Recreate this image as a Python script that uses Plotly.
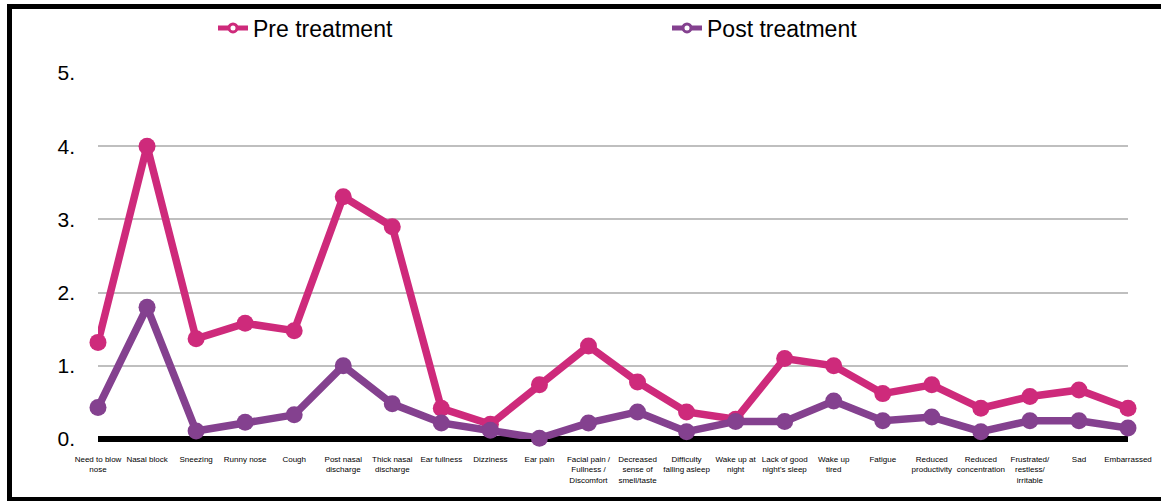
import plotly.graph_objects as go

# Symptom categories along the x axis
categories = [
    "Need to blow<br>nose", "Nasal block", "Sneezing", "Runny nose", "Cough",
    "Post nasal<br>discharge", "Thick nasal<br>discharge", "Ear fullness",
    "Dizziness", "Ear pain", "Facial pain /<br>Fullness /<br>Discomfort",
    "Decreased<br>sense of<br>smell/taste", "Difficulty<br>falling asleep",
    "Wake up at<br>night", "Lack of good<br>night's sleep", "Wake up<br>tired",
    "Fatigue", "Reduced<br>productivity", "Reduced<br>concentration",
    "Frustrated/<br>restless/<br>irritable", "Sad", "Embarrassed",
]

# Mean scores before treatment
pre_treatment = [1.32, 4.0, 1.37, 1.58, 1.48, 3.31, 2.90, 0.42, 0.20, 0.74, 1.27,
                 0.78, 0.37, 0.27, 1.10, 1.00, 0.62, 0.74, 0.42, 0.58, 0.67, 0.42]

# Mean scores after treatment
post_treatment = [0.43, 1.80, 0.11, 0.23, 0.33, 1.00, 0.48, 0.22, 0.12, 0.01, 0.22,
                  0.37, 0.10, 0.24, 0.24, 0.52, 0.25, 0.30, 0.10, 0.25, 0.25, 0.15]

y_ticks = [0, 1, 2, 3, 4, 5]
y_tick_text = ["0.", "1.", "2.", "3.", "4.", "5."]

PRE_COLOR = "#CE2A7B"
POST_COLOR = "#84418F"
FONT = "Liberation Sans, Arial, sans-serif"

x_idx = list(range(len(categories)))

fig = go.Figure()

for name, values, color in [("Pre treatment", pre_treatment, PRE_COLOR),
                            ("Post treatment", post_treatment, POST_COLOR)]:
    fig.add_trace(go.Scatter(
        x=x_idx, y=values, mode="lines+markers", name=name,
        line=dict(color=color, width=7.5),
        marker=dict(color=color, size=17),
        cliponaxis=False, showlegend=False,
    ))

# Legend entries: hollow marker on a line, one legend box per series
for name, color, leg in [("Pre treatment", PRE_COLOR, "legend"),
                         ("Post treatment", POST_COLOR, "legend2")]:
    fig.add_trace(go.Scatter(
        x=[None], y=[None], mode="lines+markers", name=name,
        line=dict(color=color, width=5),
        marker=dict(color="white", size=8, line=dict(color=color, width=3)),
        legend=leg,
    ))

legend_style = dict(
    orientation="h", xref="container", yref="container",
    xanchor="left", y=1 - 28 / 501, yanchor="middle",
    font=dict(size=23, family=FONT), bgcolor="rgba(0,0,0,0)",
)

# Outer frame: left, top and bottom edges (right edge runs off the page)
W, H = 1161, 501
frame_left, frame_top, frame_bottom = 9.5, 6.5, 499.5
frame_style = dict(type="line", xref="paper", yref="paper",
                   line=dict(color="black", width=5), layer="below")


def px_x(px):
    return (px - 98) / 1030


def px_y(px):
    return (439 - px) / 366


frame = [
    dict(x0=px_x(frame_left), x1=px_x(frame_left),
         y0=px_y(frame_bottom + 2.5), y1=px_y(frame_top - 2.5), **frame_style),
    dict(x0=px_x(frame_left), x1=px_x(W + 10),
         y0=px_y(frame_top), y1=px_y(frame_top), **frame_style),
    dict(x0=px_x(frame_left), x1=px_x(W + 10),
         y0=px_y(frame_bottom), y1=px_y(frame_bottom), **frame_style),
]

fig.update_layout(
    width=W, height=H,
    margin=dict(l=98, r=33, t=73, b=62, autoexpand=False),
    paper_bgcolor="white", plot_bgcolor="white",
    font=dict(family=FONT, color="black"),
    legend=dict(x=(254 - 41) / W, **legend_style),
    legend2=dict(x=(708 - 41) / W, **legend_style),
    xaxis=dict(
        range=[0, len(categories) - 1],
        tickmode="array", tickvals=x_idx, ticktext=categories,
        tickfont=dict(size=8, family=FONT), tickangle=0,
        showgrid=False, zeroline=False, showline=False,
        ticks="", ticklabelstandoff=14,
    ),
    yaxis=dict(
        range=[0, 5],
        tickmode="array", tickvals=y_ticks, ticktext=y_tick_text,
        tickfont=dict(size=21, family=FONT),
        showgrid=True, gridcolor="#BFBFBF", gridwidth=2,
        zeroline=True, zerolinecolor="black", zerolinewidth=6,
        showline=False, ticks="", ticklabelstandoff=22,
    ),
    shapes=frame,
)

fig.write_html("out.html")
